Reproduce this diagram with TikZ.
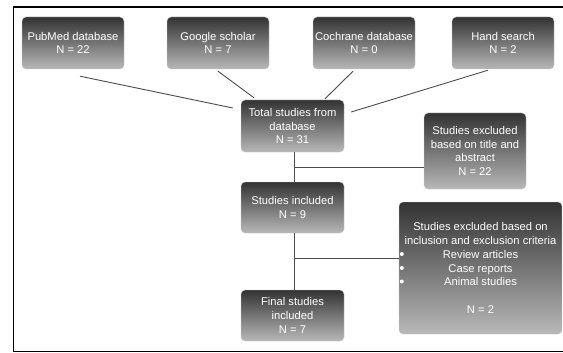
\documentclass[tikz,border=0pt]{standalone}
\usepackage{fontspec}
\setmainfont{Liberation Sans}
\usetikzlibrary{calc}
\tikzset{
  flowbox/.style={rectangle, rounded corners=4pt, top color=black!80, bottom color=black!28,
    draw=black!20, line width=0.4pt, text=white, align=center, inner sep=0pt,
    font=\fontsize{11.2}{13.7}\selectfont},
  link/.style={draw=black!70, line width=0.9pt},
  frame/.style={draw=black, line width=1.6pt}
}
\begin{document}
\begin{tikzpicture}[x=1pt, y=-1pt]
\useasboundingbox (0,0) rectangle (563,353);
\fill[white] (0,0) rectangle (563,353);
\draw[frame] (575,7) -- (13.5,7) -- (13.5,351.5) -- (575,351.5);

\node[flowbox, minimum width=102pt, minimum height=52pt] (pub) at (73,43) {PubMed database\\N = 22};
\node[flowbox, minimum width=102pt, minimum height=52pt] (goo) at (218,43) {Google scholar\\N = 7};
\node[flowbox, minimum width=102pt, minimum height=52pt] (coc) at (364,43) {Cochrane database\\N = 0};
\node[flowbox, minimum width=102pt, minimum height=52pt] (hand) at (503,43) {Hand search\\N = 2};
\node[flowbox, minimum width=103pt, minimum height=52pt] (total) at (292.5,126) {Total studies from\\database\\N = 31};
\node[flowbox, minimum width=102pt, minimum height=76pt] (exa) at (475,151) {Studies excluded\\based on title and\\abstract\\N = 22};
\node[flowbox, minimum width=103pt, minimum height=51pt] (inc) at (292.5,207.5) {Studies included\\N = 9};
\node[flowbox, minimum width=103pt, minimum height=51pt] (fin) at (292.5,315.5) {Final studies\\included\\N = 7};
\node[flowbox, minimum width=163pt, minimum height=132pt] (exb) at (480.5,268) {Studies excluded based on\\inclusion and exclusion criteria\\Review articles\\Case reports\\Animal studies\\[13.7pt]N = 2};

\foreach \dy in {-14,0,13.5} \fill[white] ($(exb.west)+(3,\dy)$) circle (2pt);

\draw[link] ($(pub.south)+(7,7)$) -- ($(total.west)+(-8,-18)$);
\draw[link] ($(goo.south)+(0,2)$) -- ($(total.north)+(-38.5,-2)$);
\draw[link] ($(coc.south)+(-11,2)$) -- ($(total.north)+(32.5,-1)$);
\draw[link] ($(hand.south)+(-15,1)$) -- ($(total.east)+(7,-14)$);

\coordinate (j1) at ($(total.south)!0.53!(inc.north)$);
\coordinate (j2) at ($(inc.south)!0.45!(fin.north)$);
\draw[link] ($(total.south)+(1.5,0)$) -- ($(inc.north)+(1.5,0)$);
\draw[link] ($(inc.south)+(1.5,0)$) -- ($(fin.north)+(1.5,0)$);
\draw[link] ($(j1)+(1.5,0)$) -- (j1 -| exa.west);
\draw[link] ($(j2)+(1.5,0)$) -- (j2 -| exb.west);
\end{tikzpicture}
\end{document}
